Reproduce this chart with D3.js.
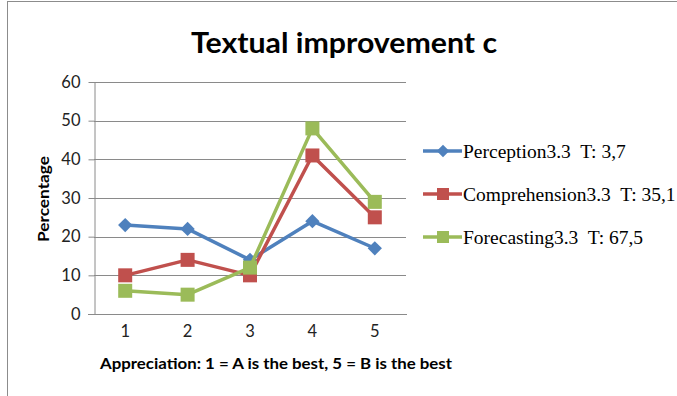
<!DOCTYPE html>
<html>
<head>
<meta charset="utf-8">
<script src="https://cdn.jsdelivr.net/npm/d3@7"></script>
<style>
  html, body { margin: 0; padding: 0; background: #fff; }
  svg { display: block; }
  text { white-space: pre; }
</style>
</head>
<body>
<svg id="chart" width="677" height="396"></svg>
<script>
// Rating categories along the x axis
const categories = ["1", "2", "3", "4", "5"];
// Percentages per series
const perception    = [23, 22, 14, 24, 17];
const comprehension = [10, 14, 10, 41, 25];
const forecasting   = [6, 5, 12, 48, 29];
const seriesNames = ["Perception3.3  T: 3,7", "Comprehension3.3  T: 35,1", "Forecasting3.3  T: 67,5"];
const yTicks = [0, 10, 20, 30, 40, 50, 60];

const series = [
  { name: seriesNames[0], values: perception,    color: "#4F81BD", marker: "diamond" },
  { name: seriesNames[1], values: comprehension, color: "#C0504D", marker: "square" },
  { name: seriesNames[2], values: forecasting,   color: "#9BBB59", marker: "square" }
];

const svg = d3.select("#chart");
const sansFont = "Lato, 'Open Sans', sans-serif";

// Outer chart frame
svg.append("rect")
  .attr("x", 7.5).attr("y", 1.5).attr("width", 690).attr("height", 420)
  .attr("fill", "none").attr("stroke", "#8c8c8c").attr("stroke-width", 1);

const plot = { left: 94, right: 406, top: 82, bottom: 314 };

const x = d3.scaleBand().domain(categories).range([plot.left, plot.right]);
const y = d3.scaleLinear().domain([0, 60]).range([plot.bottom, plot.top]);

// Horizontal gridlines
svg.append("g").selectAll("line")
  .data(yTicks.filter(t => t > 0))
  .join("line")
  .attr("x1", plot.left).attr("x2", plot.right)
  .attr("y1", d => Math.round(y(d)) + 0.5).attr("y2", d => Math.round(y(d)) + 0.5)
  .attr("stroke", "#8a8a8a").attr("stroke-width", 1);

// Y axis
const yAxis = svg.append("g")
  .attr("transform", `translate(${plot.left + 0.5},0)`)
  .call(d3.axisLeft(y).tickValues(yTicks).tickSize(6).tickPadding(8).tickSizeOuter(0));
yAxis.select(".domain").attr("stroke", "#8a8a8a");
yAxis.selectAll(".tick line").attr("stroke", "#8a8a8a");
yAxis.selectAll(".tick text")
  .attr("font-family", sansFont).attr("font-size", 16.5).attr("fill", "#222");

// X axis
const xAxis = svg.append("g")
  .attr("transform", `translate(0,${Math.round(y(0)) + 0.5})`)
  .call(d3.axisBottom(x).tickSize(0).tickPadding(11).tickSizeOuter(0));
xAxis.select(".domain").attr("stroke", "#8a8a8a").attr("d", `M${plot.left - 6},0H${plot.right + 1}`);
xAxis.selectAll(".tick text")
  .attr("font-family", sansFont).attr("font-size", 16.5).attr("fill", "#222");

// Series lines and markers
const line = d3.line()
  .x((d, i) => x(categories[i]) + x.bandwidth() / 2)
  .y(d => y(d));

function drawMarker(g, type, color, cx, cy) {
  if (type === "diamond") {
    g.append("path")
      .attr("d", d3.symbol().type(d3.symbolDiamond2 || d3.symbolDiamond).size(130)())
      .attr("transform", `translate(${cx},${cy})`)
      .attr("fill", color);
  } else {
    const s = 14;
    g.append("rect")
      .attr("x", cx - s / 2).attr("y", cy - s / 2)
      .attr("width", s).attr("height", s)
      .attr("fill", color);
  }
}

series.forEach(s => {
  const g = svg.append("g");
  g.append("path")
    .datum(s.values)
    .attr("d", line)
    .attr("fill", "none")
    .attr("stroke", s.color)
    .attr("stroke-width", 3.5)
    .attr("stroke-linejoin", "round");
  s.values.forEach((v, i) => {
    drawMarker(g, s.marker, s.color, x(categories[i]) + x.bandwidth() / 2, y(v));
  });
});

// Title
svg.append("text")
  .attr("x", 191).attr("y", 53)
  .attr("font-family", sansFont).attr("font-weight", "bold").attr("font-size", 29)
  .attr("textLength", 306).attr("lengthAdjust", "spacingAndGlyphs")
  .attr("fill", "#000")
  .text("Textual improvement c");

// Axis titles
svg.append("text")
  .attr("transform", "translate(49,199) rotate(-90)")
  .attr("x", -43)
  .attr("font-family", sansFont).attr("font-weight", "bold").attr("font-size", 16)
  .attr("textLength", 86).attr("lengthAdjust", "spacingAndGlyphs")
  .attr("fill", "#000")
  .text("Percentage");

svg.append("text")
  .attr("x", 100).attr("y", 369)
  .attr("font-family", sansFont).attr("font-weight", "bold").attr("font-size", 16)
  .attr("textLength", 352).attr("lengthAdjust", "spacingAndGlyphs")
  .attr("fill", "#000")
  .text("Appreciation: 1 = A is the best, 5 = B is the best");

// Legend
const legendY = [151, 194, 237];
series.forEach((s, i) => {
  const g = svg.append("g").attr("transform", `translate(0,${legendY[i]})`);
  g.append("line")
    .attr("x1", 423).attr("x2", 462).attr("y1", 0).attr("y2", 0)
    .attr("stroke", s.color).attr("stroke-width", 3.5);
  if (s.marker === "diamond") {
    g.append("path")
      .attr("d", d3.symbol().type(d3.symbolDiamond2 || d3.symbolDiamond).size(100)())
      .attr("transform", "translate(443,0)")
      .attr("fill", s.color);
  } else {
    g.append("rect").attr("x", 437).attr("y", -6).attr("width", 12).attr("height", 12).attr("fill", s.color);
  }
  g.append("text")
    .attr("x", 463).attr("y", 6.5)
    .attr("font-family", "'Liberation Serif', 'Times New Roman', serif")
    .attr("font-size", 19.5)
    .attr("fill", "#000")
    .text(s.name);
});
</script>
</body>
</html>
